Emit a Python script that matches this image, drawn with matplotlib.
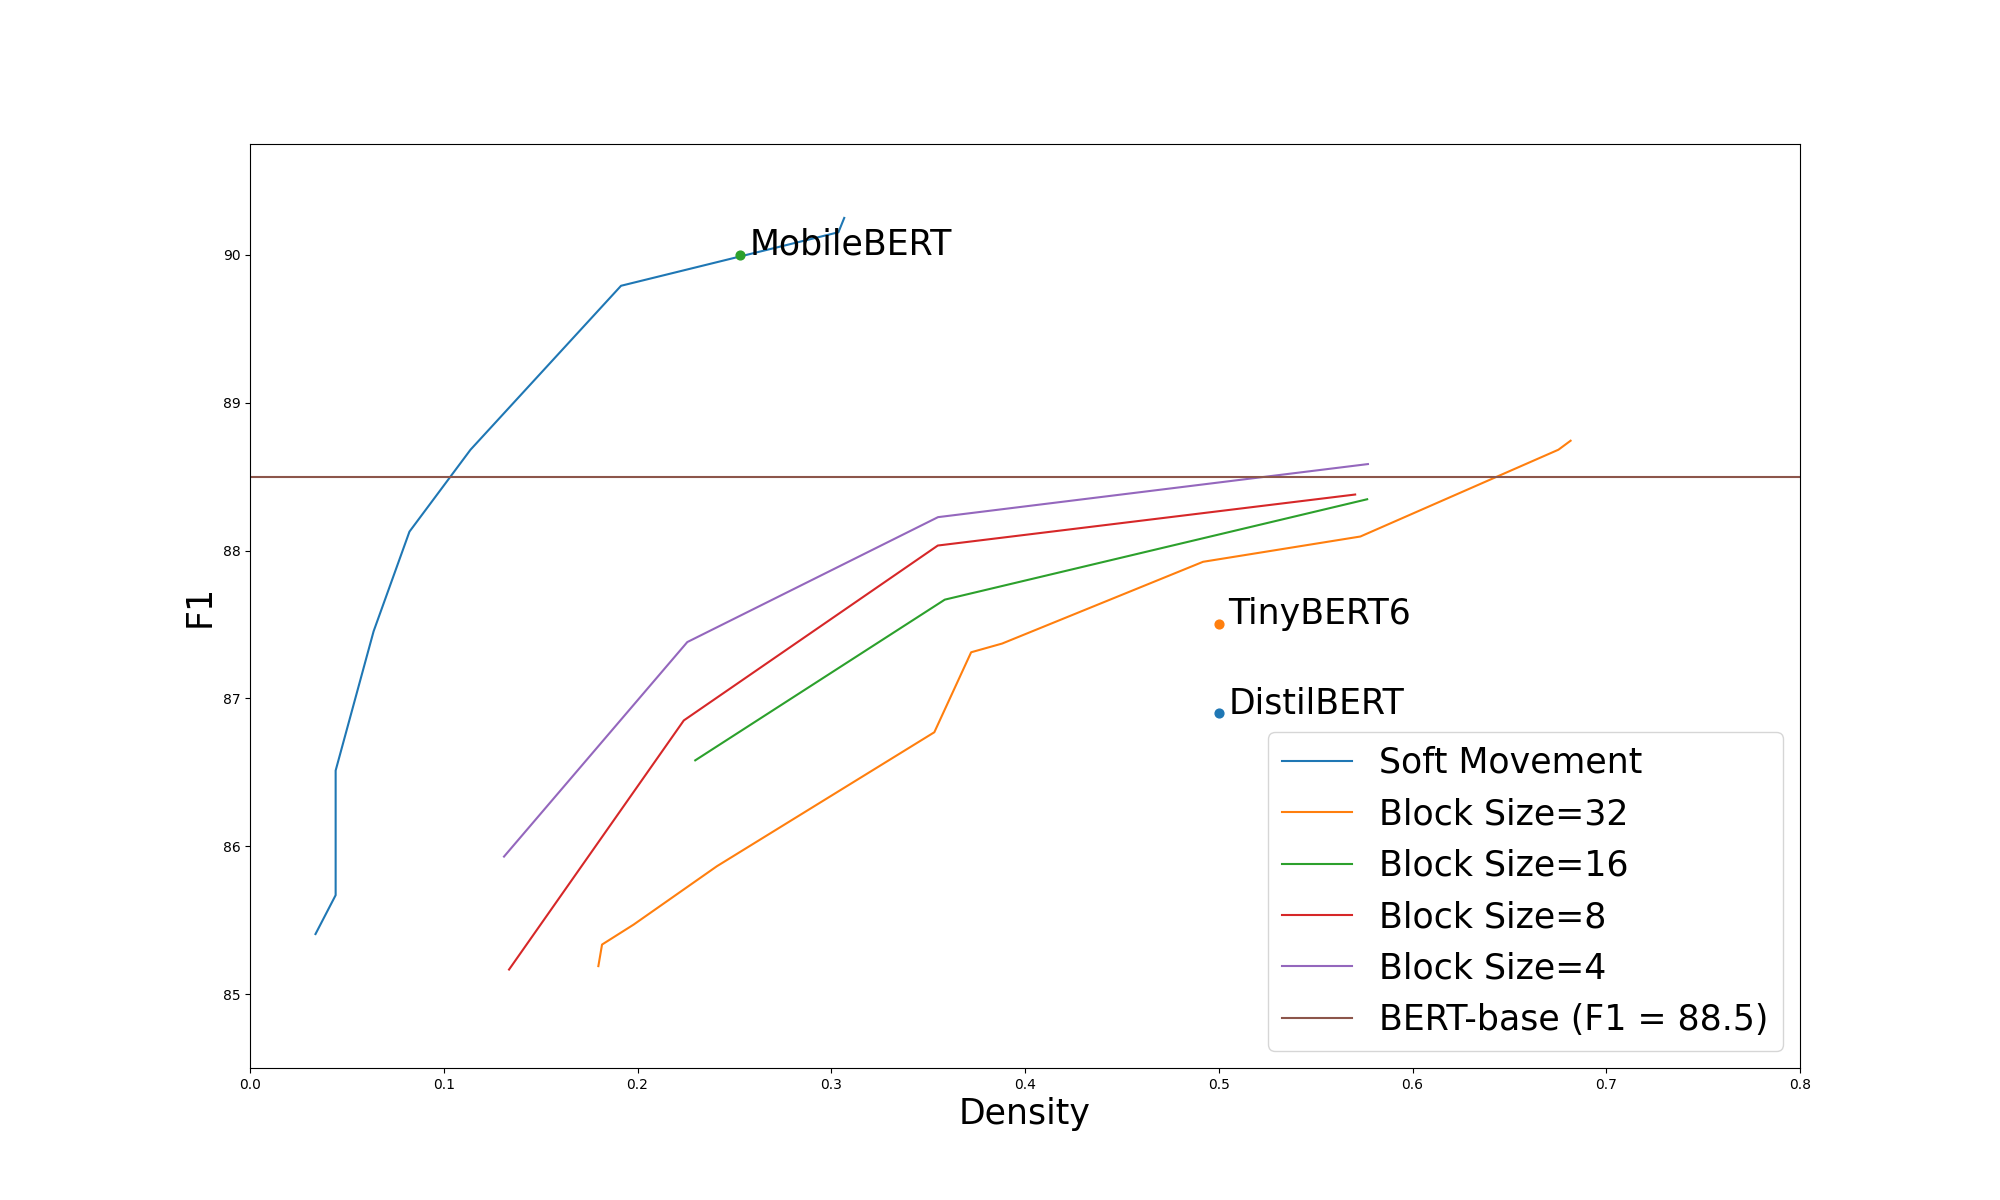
import matplotlib
matplotlib.use("Agg")
import matplotlib.pyplot as plt

# Soft Movement
soft_x = [0.0338, 0.0442, 0.0442, 0.0638, 0.0823, 0.1138, 0.1915, 0.3037, 0.3067]
soft_y = [85.406, 85.669, 86.512, 87.454, 88.128, 88.682, 89.791, 90.153, 90.25]

# Block Size = 32
b32_x = [0.1798, 0.1817, 0.198, 0.241, 0.3532, 0.3722, 0.3882, 0.4919, 0.5731, 0.6753, 0.6816]
b32_y = [85.189, 85.335, 85.47, 85.865, 86.771, 87.312, 87.371, 87.924, 88.095, 88.682, 88.743]

# Block Size = 16
b16_x = [0.2298, 0.3586, 0.5766]
b16_y = [86.581, 87.668, 88.347]

# Block Size = 8
b8_x = [0.1337, 0.2239, 0.3550, 0.5704]
b8_y = [85.166, 86.851, 88.034, 88.379]

# Block Size = 4
b4_x = [0.1311, 0.2257, 0.3551, 0.5770]
b4_y = [85.930, 87.381, 88.226, 88.585]

bert_base_f1 = 88.5

models = ["DistilBERT", "TinyBERT6", "MobileBERT"]
model_x = [0.5, 0.5, 0.253]
model_y = [86.9, 87.5, 90.0]
model_colors = ["C0", "C1", "C2"]

series_labels = ["Soft Movement", "Block Size=32", "Block Size=16", "Block Size=8", "Block Size=4"]

fig, ax = plt.subplots(figsize=(20, 12), dpi=100)

ax.plot(soft_x, soft_y, color="C0", label=series_labels[0])
ax.plot(b32_x, b32_y, color="C1", label=series_labels[1])
ax.plot(b16_x, b16_y, color="C2", label=series_labels[2])
ax.plot(b8_x, b8_y, color="C3", label=series_labels[3])
ax.plot(b4_x, b4_y, color="C4", label=series_labels[4])
ax.axhline(bert_base_f1, color="C5", label="BERT-base (F1 = %.1f)" % bert_base_f1)

for name, x, y, c in zip(models, model_x, model_y, model_colors):
    ax.scatter([x], [y], color=c, s=40, zorder=3)
    ax.text(x + 0.005, y, name, fontsize=25)

ax.set_xlim(0.0, 0.8)
ax.set_ylim(84.5, 90.75)
ax.set_xlabel("Density", fontsize=25)
ax.set_ylabel("F1", fontsize=25)
ax.legend(loc="lower right", fontsize=25)

fig.savefig("out.png", dpi=100)
